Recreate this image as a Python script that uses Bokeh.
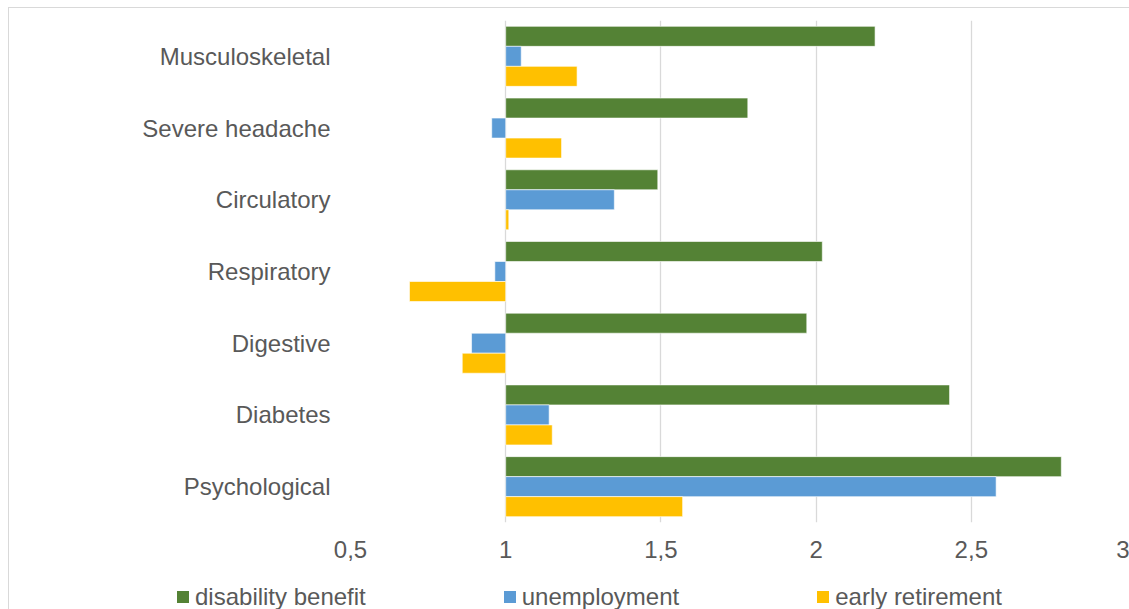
from bokeh.plotting import figure
from bokeh.layouts import column
from bokeh.models import ColumnDataSource, FactorRange, FixedTicker, Div
from bokeh.transform import dodge
from bokeh.embed import file_html
from bokeh.resources import INLINE

categories = ["Musculoskeletal", "Severe headache", "Circulatory", "Respiratory",
              "Digestive", "Diabetes", "Psychological"]
disability_benefit = [2.19, 1.78, 1.49, 2.02, 1.97, 2.43, 2.79]
unemployment = [1.05, 0.955, 1.35, 0.965, 0.89, 1.14, 2.58]
early_retirement = [1.23, 1.18, 1.01, 0.69, 0.86, 1.15, 1.57]
series_names = ["disability benefit", "unemployment", "early retirement"]
tick_values = [0.5, 1, 1.5, 2, 2.5, 3]
tick_labels = ["0,5", "1", "1,5", "2", "2,5", "3"]
baseline = 1.0

colors = ["#548235", "#5B9BD5", "#FFC000"]
text_color = "#595959"
font = "Liberation Sans"

src = ColumnDataSource(dict(cat=categories, db=disability_benefit,
                            un=unemployment, er=early_retirement,
                            base=[baseline] * len(categories)))

W, H, LH = 1120, 567, 34
p = figure(width=W, height=H, output_backend="svg", toolbar_location=None,
           y_range=FactorRange(factors=list(reversed(categories)), range_padding=0),
           x_range=(0.5, 3.0),
           min_border_left=341, min_border_right=3, min_border_top=12,
           min_border_bottom=53)

bh = 0.279
fields = ["db", "un", "er"]
offsets = [bh, 0.0, -bh]
for f, off, c, n in zip(fields, offsets, colors, series_names):
    p.hbar(y=dodge("cat", off, range=p.y_range), left="base", right=f,
           height=bh, source=src, fill_color=c, line_color="white",
           line_alpha=0.6, line_width=1, name=n)

p.outline_line_color = None
p.ygrid.grid_line_color = None
p.xgrid.grid_line_color = "#d9d9d9"
p.xgrid.grid_line_width = 1.3

p.xaxis.ticker = FixedTicker(ticks=tick_values)
p.xaxis.major_label_overrides = {v: l for v, l in zip(tick_values, tick_labels)}
p.xaxis.axis_line_color = None
p.xaxis.major_tick_line_color = None
p.xaxis.minor_tick_line_color = None
p.xaxis.major_tick_out = 0
p.xaxis.major_label_standoff = 18
p.xaxis.major_label_text_font = font
p.xaxis.major_label_text_font_size = "24px"
p.xaxis.major_label_text_color = text_color

p.yaxis.axis_line_color = None
p.yaxis.major_tick_line_color = None
p.yaxis.minor_tick_line_color = None
p.yaxis.major_tick_out = 0
p.yaxis.major_label_standoff = 20
p.yaxis.major_label_text_font = font
p.yaxis.major_label_text_font_size = "24px"
p.yaxis.major_label_text_color = text_color

# legend strip below the chart
items_html = "".join(
    f'<span style="display:inline-flex;align-items:center;">'
    f'<span style="display:inline-block;width:12px;height:12px;background:{c};margin-right:6px;"></span>'
    f'<span>{n}</span></span>'
    for n, c in zip(series_names, colors))
legend_div = Div(
    text=f'<div style="display:flex;align-items:center;gap:138px;padding-left:163px;'
         f'padding-top:10px;height:24px;line-height:24px;font-family:\'{font}\';'
         f'font-size:24px;color:{text_color};white-space:nowrap;">{items_html}</div>',
    width=W, height=LH)

layout = column(p, legend_div, spacing=0)
layout.styles = {"border-left": "1px solid #d9d9d9", "border-top": "1px solid #d9d9d9",
                 "margin-left": "8px", "margin-top": "7px"}

open("out.html", "w").write(file_html(layout, INLINE))
